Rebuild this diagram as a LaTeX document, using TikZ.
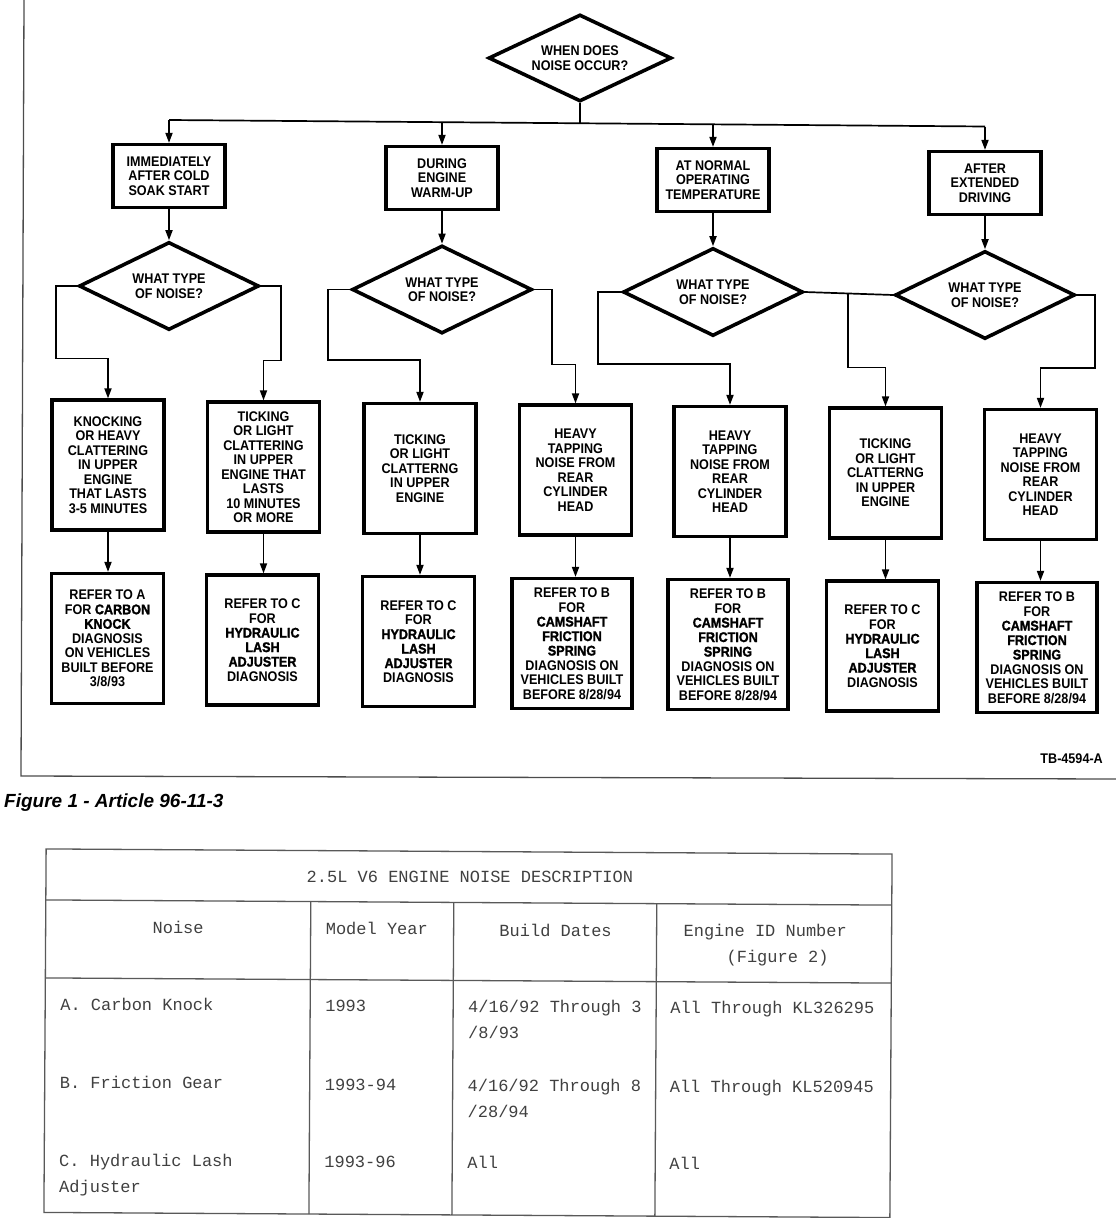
\documentclass[tikz,border=0pt]{standalone}
\usepackage{fontspec}
\usetikzlibrary{arrows.meta,shapes.geometric,calc}
\newfontfamily\chartfont{Liberation Sans}[FakeStretch=0.9]
\newfontfamily\heavyfont{Liberation Sans}[FakeStretch=0.9,FakeBold=1.5]
\newfontfamily\capfont{Liberation Sans}
\newfontfamily\tablefont{Liberation Mono}
\NewDocumentCommand{\emword}{m}{{\heavyfont\bfseries #1}}

\tikzset{
  chart/.style={font=\chartfont\bfseries\fontsize{14}{14.5}\selectfont, align=center, inner sep=0pt},
  ask/.style={chart, draw, shape=diamond, aspect=2, line width=3.6pt, minimum width=180pt, minimum height=88pt},
  stage/.style={chart, draw, rectangle, line width=3.2pt, minimum width=112pt, minimum height=63pt},
  noise/.style={chart, draw, rectangle, line width=3.2pt, minimum width=112pt, minimum height=130pt},
  refer/.style={noise},
  wide/.style={minimum width=120pt},
  link/.style={line width=1.7pt},
  flow/.style={link, -{Triangle[length=10pt,width=7pt]}},
  frame/.style={line width=1.3pt, black!70},
  grid/.style={line width=1.3pt, black!65},
  cell/.style={font=\tablefont\fontsize{17}{26}\selectfont, text=black!75, inner sep=0pt, anchor=base west, align=left},
}

\begin{document}
\begin{tikzpicture}[x=1pt, y=-1pt]
        \useasboundingbox (0,0) rectangle (1116,1218);
        \draw[frame] (24,0) -- (21,776) -- (1116,779);

        \node[ask, minimum width=183pt, minimum height=87pt] (when) at (580,58) {WHEN DOES\\NOISE OCCUR?};

        \node[stage] (cold) at (169,176) {IMMEDIATELY\\AFTER COLD\\SOAK START};
        \node[stage] (warm) at (442,178) {DURING\\ENGINE\\WARM-UP};
        \node[stage] (normal) at (713,180) {AT NORMAL\\OPERATING\\TEMPERATURE};
        \node[stage] (extended) at (985,183) {AFTER\\EXTENDED\\DRIVING};

        \node[ask] (type1) at (169,286) {WHAT TYPE\\OF NOISE?};
        \node[ask] (type2) at (442,289.5) {WHAT TYPE\\OF NOISE?};
        \node[ask] (type3) at (713,292) {WHAT TYPE\\OF NOISE?};
        \node[ask] (type4) at (985,295) {WHAT TYPE\\OF NOISE?};

        \node[noise] (n1) at (108,465) {KNOCKING\\OR HEAVY\\CLATTERING\\IN UPPER\\ENGINE\\THAT LASTS\\3-5 MINUTES};
        \node[noise] (n2) at (263.5,467) {TICKING\\OR LIGHT\\CLATTERING\\IN UPPER\\ENGINE THAT\\LASTS\\10 MINUTES\\OR MORE};
        \node[noise] (n3) at (420,468.5) {TICKING\\OR LIGHT\\CLATTERNG\\IN UPPER\\ENGINE};
        \node[noise] (n4) at (575.5,470) {HEAVY\\TAPPING\\NOISE FROM\\REAR\\CYLINDER\\HEAD};
        \node[noise] (n5) at (730,471.5) {HEAVY\\TAPPING\\NOISE FROM\\REAR\\CYLINDER\\HEAD};
        \node[noise] (n6) at (885.5,473) {TICKING\\OR LIGHT\\CLATTERNG\\IN UPPER\\ENGINE};
        \node[noise] (n7) at (1040.5,474.5) {HEAVY\\TAPPING\\NOISE FROM\\REAR\\CYLINDER\\HEAD};

        \node[refer] (r1) at (107.5,638.5) {REFER TO A\\FOR \emword{CARBON}\\\emword{KNOCK}\\DIAGNOSIS\\ON VEHICLES\\BUILT BEFORE\\3/8/93};
        \node[refer] (r2) at (262.5,640) {REFER TO C\\FOR\\\emword{HYDRAULIC}\\\emword{LASH}\\\emword{ADJUSTER}\\DIAGNOSIS};
        \node[refer] (r3) at (418.5,641.5) {REFER TO C\\FOR\\\emword{HYDRAULIC}\\\emword{LASH}\\\emword{ADJUSTER}\\DIAGNOSIS};
        \node[refer, wide] (r4) at (572,643.5) {REFER TO B\\FOR\\\emword{CAMSHAFT}\\\emword{FRICTION}\\\emword{SPRING}\\DIAGNOSIS ON\\VEHICLES BUILT\\BEFORE 8/28/94};
        \node[refer, wide] (r5) at (728,644.5) {REFER TO B\\FOR\\\emword{CAMSHAFT}\\\emword{FRICTION}\\\emword{SPRING}\\DIAGNOSIS ON\\VEHICLES BUILT\\BEFORE 8/28/94};
        \node[refer] (r6) at (882.5,646) {REFER TO C\\FOR\\\emword{HYDRAULIC}\\\emword{LASH}\\\emword{ADJUSTER}\\DIAGNOSIS};
        \node[refer, wide] (r7) at (1037,647.5) {REFER TO B\\FOR\\\emword{CAMSHAFT}\\\emword{FRICTION}\\\emword{SPRING}\\DIAGNOSIS ON\\VEHICLES BUILT\\BEFORE 8/28/94};

        % Bus under the first question.
        \coordinate (bus) at (580,123.3);
        \coordinate (b1) at (169,120);
        \coordinate (b2) at (442,122.2);
        \coordinate (b3) at (713,124.3);
        \coordinate (b4) at (985,126.5);
        \draw[link] (when.south) -- (bus);
        \draw[link] (b1) -- (b4);
        \foreach \b/\s in {b1/cold,b2/warm,b3/normal,b4/extended} \draw[flow] (\b) -- (\s.north);
        \foreach \s/\t in {cold/type1,warm/type2,normal/type3,extended/type4} \draw[flow] (\s.south) -- (\t.north);

        % Branches to the noise types.
        \draw[flow] (type1.west) -- ++(-21,0) |- ([yshift=40pt]n1.north) -- (n1.north);
        \draw[flow] (type1.east) -- ++(20,0) |- ([yshift=40pt]n2.north) -- (n2.north);
        \draw[flow] (type2.west) -- ++(-22,0) |- ([yshift=42pt]n3.north) -- (n3.north);
        \draw[flow] (type2.east) -- ++(18,0) |- ([yshift=39pt]n4.north) -- (n4.north);
        \draw[flow] (type3.west) -- ++(-23,0) |- ([yshift=41pt]n5.north) -- (n5.north);
        \draw[link] (type3.east) -- (type4.west);
        \coordinate (join) at ($(type3.east)!0.49!(type4.west)$);
        \draw[flow] (join) |- ([yshift=39pt]n6.north) -- (n6.north);
        \draw[flow] (type4.east) -- ++(18,0) |- ([yshift=40pt]n7.north) -- (n7.north);
        \foreach \i in {1,...,7} \draw[flow] (n\i.south) -- (n\i.south |- r\i.north);

        \node[chart, anchor=base east] (tbnum) at (1103,763) {TB-4594-A};
        \node[anchor=base west, inner sep=0pt, font=\capfont\bfseries\itshape\fontsize{19}{22}\selectfont] (caption) at (4,807) {Figure 1 - Article 96-11-3};

        % Noise description table.
        \begin{scope}[rotate around={-0.35:(468,1033)}]
        \draw[grid] (45,851.5) rectangle (891,1215);
        \draw[grid] (45,902.5) -- (891,902.5) (45,980.5) -- (891,980.5);
        \foreach \x in {310,453,656} \draw[grid] (\x,902.5) -- (\x,1215);
        \node[cell, anchor=base] (title) at (469,882) {2.5L V6 ENGINE NOISE DESCRIPTION};
        \node[cell, anchor=base] (hnoise) at (177.5,935.5) {Noise};
        \node[cell] (hyear) at (325,935.5) {Model Year};
        \node[cell, anchor=base] (hdates) at (555,935.5) {Build Dates};
        \node[cell] (hid) at (683,961.5) {Engine ID Number\\\hspace*{43pt}(Figure 2)};
        \node[cell] (anoise) at (60,1012.5) {A. Carbon Knock};
        \node[cell] (ayear) at (325,1012.5) {1993};
        \node[cell] (adates) at (468,1038.5) {4/16/92 Through 3\\/8/93};
        \node[cell] (aid) at (670,1012.5) {All Through KL326295};
        \node[cell] (bnoise) at (60,1091) {B. Friction Gear};
        \node[cell] (byear) at (325,1091) {1993-94};
        \node[cell] (bdates) at (468,1117) {4/16/92 Through 8\\/28/94};
        \node[cell] (bid) at (670,1091) {All Through KL520945};
        \node[cell] (cnoise) at (60,1194.5) {C. Hydraulic Lash\\Adjuster};
        \node[cell] (cyear) at (325,1168.5) {1993-96};
        \node[cell] (cdates) at (468,1168.5) {All};
        \node[cell] (cid) at (670,1168.5) {All};
        \end{scope}
\end{tikzpicture}
\end{document}
